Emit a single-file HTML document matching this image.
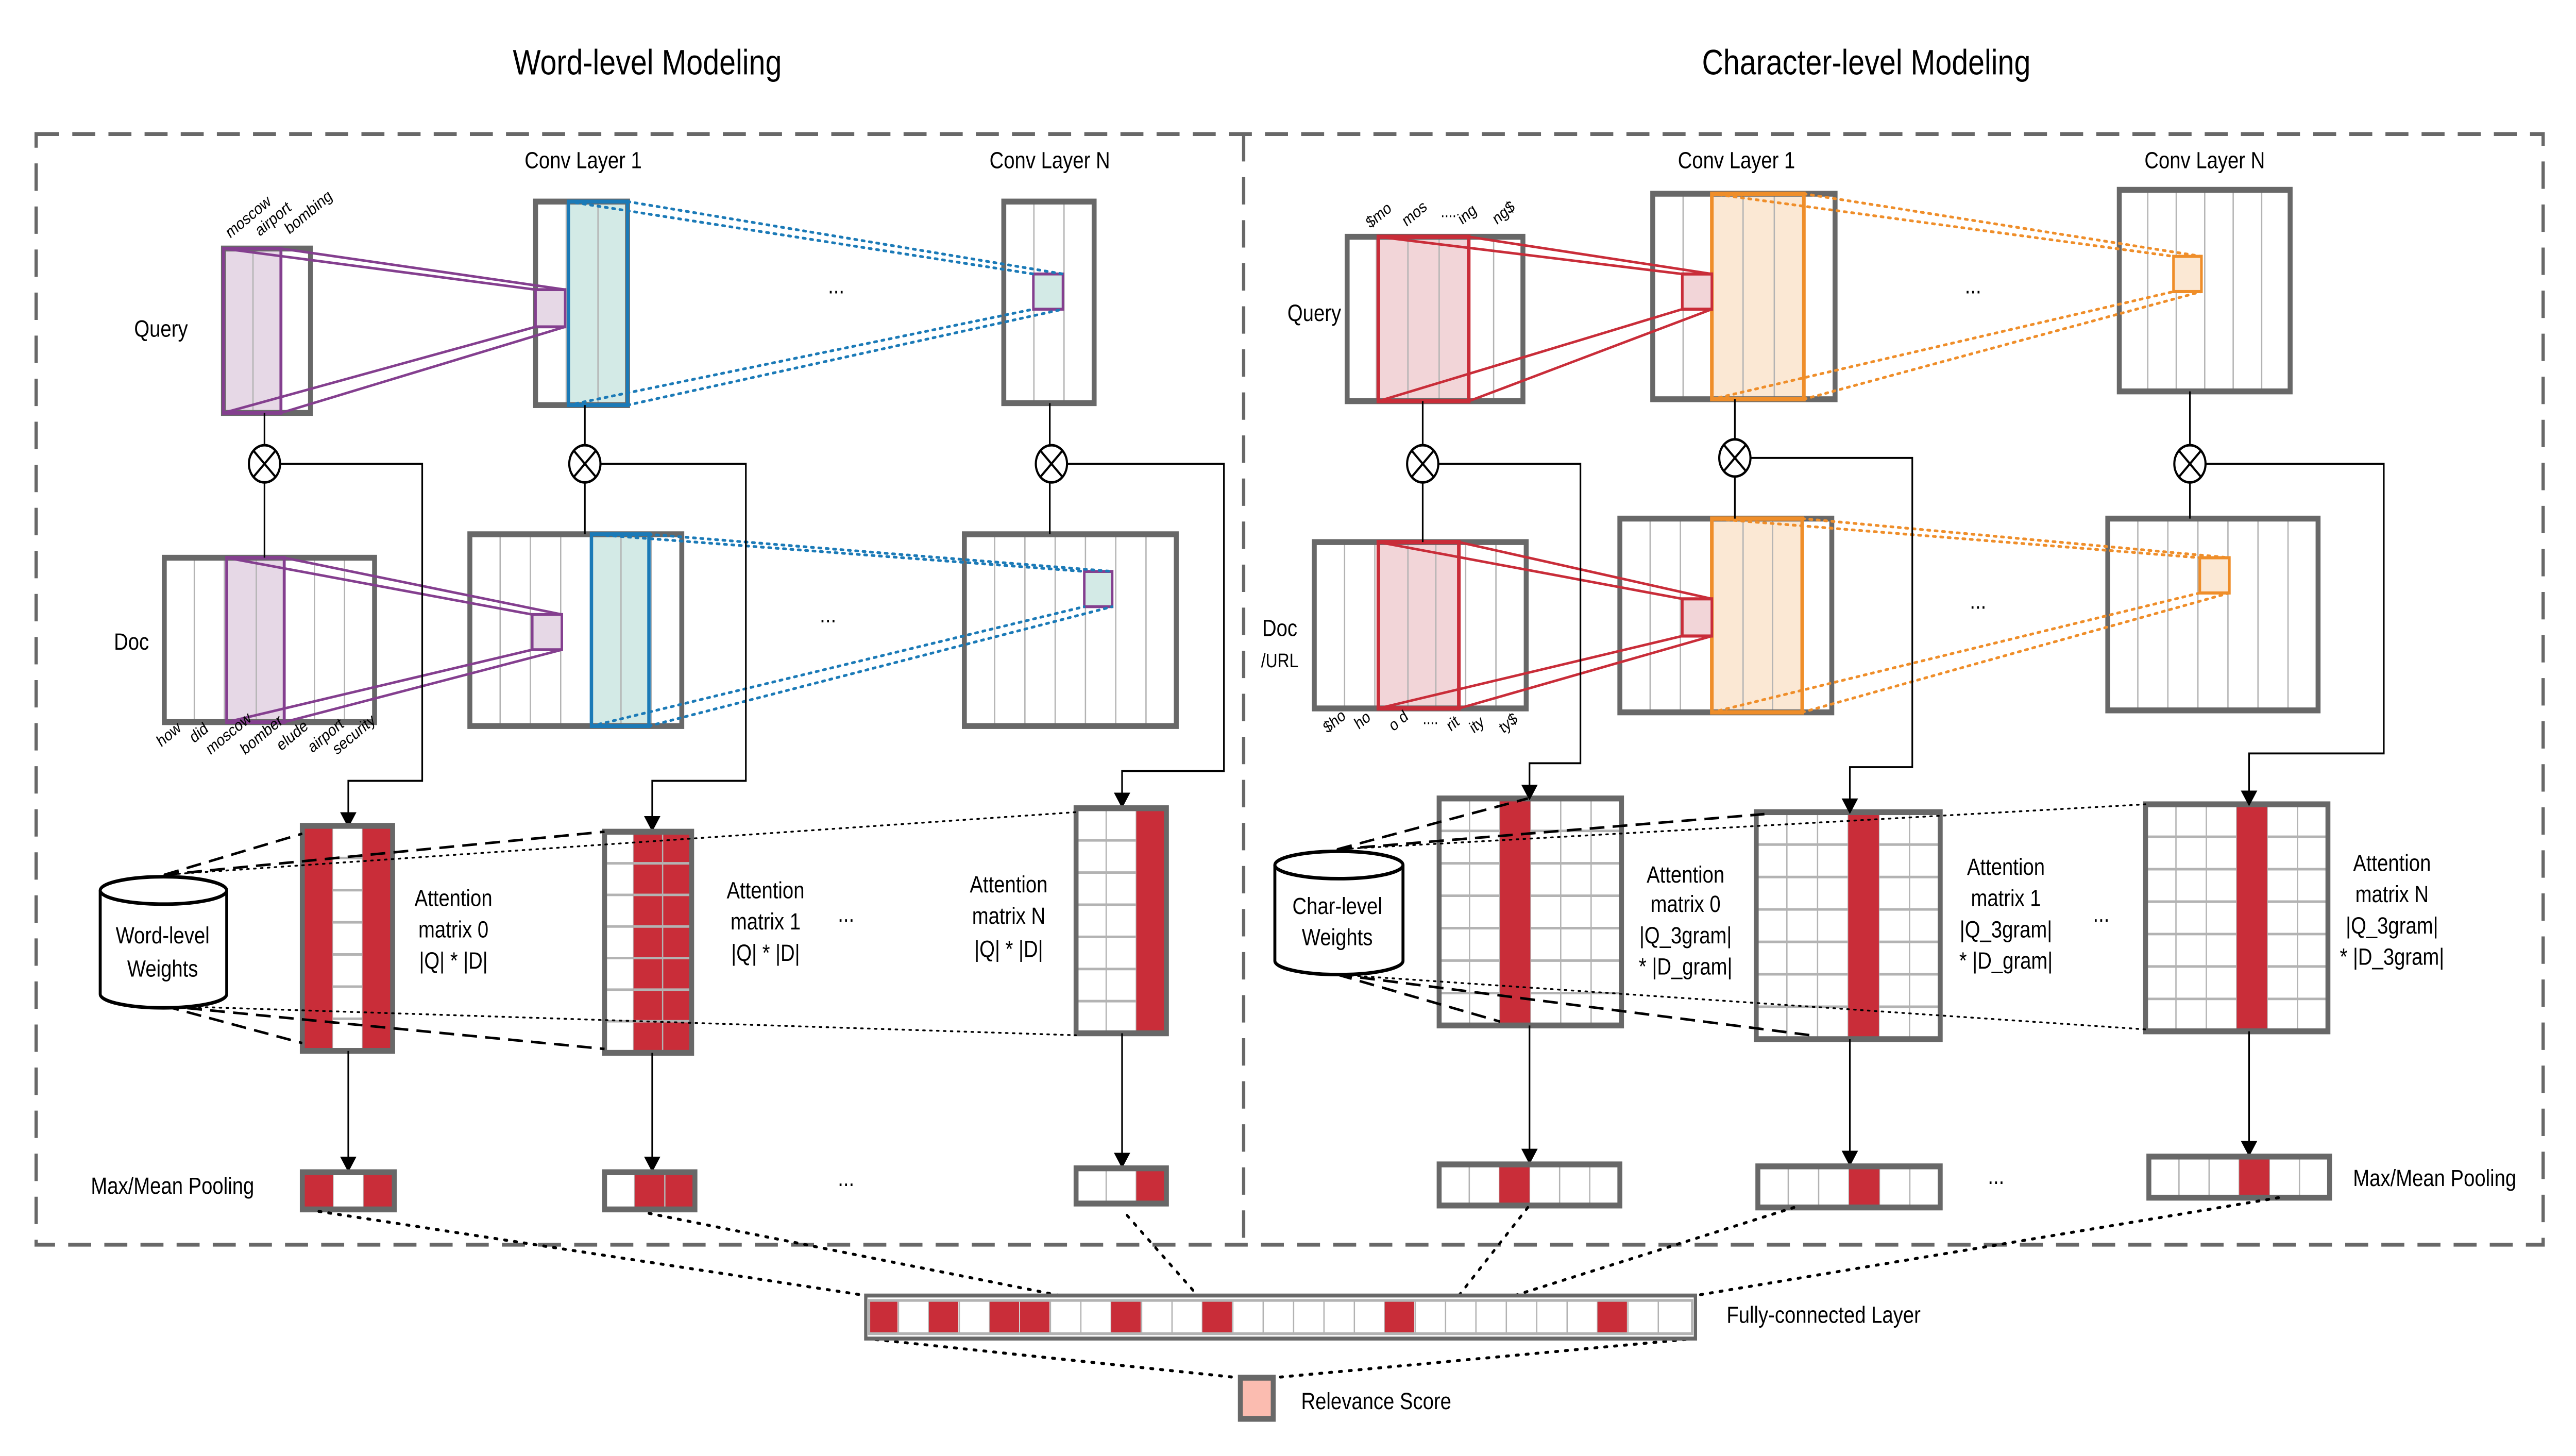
<!DOCTYPE html>
<html><head><meta charset="utf-8">
<style>
html,body{margin:0;padding:0;background:#fff;width:100%;height:100%;overflow:hidden}
svg{display:block;width:100vw;height:100vh}
text{font-family:"Liberation Sans",Arial,sans-serif;fill:#000}
</style></head><body>
<svg id="s" xmlns="http://www.w3.org/2000/svg" viewBox="0 0 1568 744" preserveAspectRatio="none">
<defs>
<marker id="ar" markerWidth="8" markerHeight="10" refX="7" refY="5" orient="auto" markerUnits="userSpaceOnUse"><path d="M0,0 L8,5 L0,10 z" fill="#000"/></marker>
</defs>
<g id="g"></g>
<text x="394" y="38" font-size="18" text-anchor="middle">Word-level Modeling</text>
<text x="1136" y="38" font-size="18" text-anchor="middle">Character-level Modeling</text>
<text x="355" y="86" font-size="12" text-anchor="middle">Conv Layer 1</text>
<text x="639" y="86" font-size="12" text-anchor="middle">Conv Layer N</text>
<text x="1057" y="86" font-size="12" text-anchor="middle">Conv Layer 1</text>
<text x="1342" y="86" font-size="12" text-anchor="middle">Conv Layer N</text>
<text x="98" y="172" font-size="12" text-anchor="middle">Query</text>
<text x="80" y="332" font-size="12" text-anchor="middle">Doc</text>
<text x="800" y="164" font-size="12" text-anchor="middle">Query</text>
<text x="779" y="325" font-size="12" text-anchor="middle">Doc</text>
<text x="779" y="341" font-size="10" text-anchor="middle">/URL</text>
<g font-size="12" text-anchor="middle">
<text x="509" y="150">...</text><text x="504" y="318">...</text>
<text x="1201" y="150">...</text><text x="1204" y="311">...</text>
<text x="515" y="471">...</text><text x="515" y="606">...</text>
<text x="1279" y="471">...</text><text x="1215" y="605">...</text>
</g>
<g font-size="8.5">
<text transform="translate(140,122) rotate(-35)">moscow</text>
<text transform="translate(158,121) rotate(-35)">airport</text>
<text transform="translate(176,120) rotate(-35)">bombing</text>
<text transform="translate(98,382) rotate(-35)">how</text>
<text transform="translate(118,380) rotate(-35)">did</text>
<text transform="translate(128,386) rotate(-35)">moscow</text>
<text transform="translate(149,386) rotate(-35)">bomber</text>
<text transform="translate(171,384) rotate(-35)">elude</text>
<text transform="translate(190,385) rotate(-35)">airport</text>
<text transform="translate(205,386) rotate(-35)">security</text>
<text transform="translate(834,117) rotate(-35)">$mo</text>
<text transform="translate(856,116) rotate(-35)">mos</text>
<text transform="translate(877,111)">....</text>
<text transform="translate(890,115) rotate(-35)">ing</text>
<text transform="translate(911,115) rotate(-35)">ng$</text>
<text transform="translate(808,375) rotate(-35)">$ho</text>
<text transform="translate(827,373) rotate(-35)">ho</text>
<text transform="translate(848,374) rotate(-35)">o d</text>
<text transform="translate(866,370)">....</text>
<text transform="translate(883,374) rotate(-35)">rit</text>
<text transform="translate(897,375) rotate(-35)">ity</text>
<text transform="translate(915,375) rotate(-35)">ty$</text>
</g>
<g font-size="12" text-anchor="middle">
<text x="276" y="463">Attention</text><text x="276" y="479">matrix 0</text><text x="276" y="495">|Q| * |D|</text>
<text x="466" y="459">Attention</text><text x="466" y="475">matrix 1</text><text x="466" y="491">|Q| * |D|</text>
<text x="614" y="456">Attention</text><text x="614" y="472">matrix N</text><text x="614" y="489">|Q| * |D|</text>
<text x="1026" y="451">Attention</text><text x="1026" y="466">matrix 0</text><text x="1026" y="482">|Q_3gram|</text><text x="1026" y="498">* |D_gram|</text>
<text x="1221" y="447">Attention</text><text x="1221" y="463">matrix 1</text><text x="1221" y="479">|Q_3gram|</text><text x="1221" y="495">* |D_gram|</text>
<text x="1456" y="445">Attention</text><text x="1456" y="461">matrix N</text><text x="1456" y="477">|Q_3gram|</text><text x="1456" y="493">* |D_3gram|</text>
<text x="99" y="482">Word-level</text><text x="99" y="499">Weights</text>
<text x="814" y="467">Char-level</text><text x="814" y="483">Weights</text>
</g>
<text x="105" y="610" font-size="12" text-anchor="middle">Max/Mean Pooling</text>
<text x="1482" y="606" font-size="12" text-anchor="middle">Max/Mean Pooling</text>
<text x="1051" y="676" font-size="12">Fully-connected Layer</text>
<text x="792" y="720" font-size="12">Relevance Score</text>
</svg>
<script>
var G=document.getElementById('g'),NS='http://www.w3.org/2000/svg';
function el(t,a){var e=document.createElementNS(NS,t);for(var k in a)e.setAttribute(k,a[k]);G.appendChild(e);return e;}
function R(x,y,w,h,f,s,sw,extra){var a={x:x,y:y,width:w,height:h,fill:f||'none',stroke:s||'none','stroke-width':sw||0};for(var k in extra)a[k]=extra[k];return el('rect',a);}
function L(x1,y1,x2,y2,s,sw,extra){var a={x1:x1,y1:y1,x2:x2,y2:y2,stroke:s||'#000','stroke-width':sw||1};for(var k in extra)a[k]=extra[k];return el('line',a);}
function P(d,s,sw,extra){var a={d:d,fill:'none',stroke:s||'#000','stroke-width':sw||1};for(var k in extra)a[k]=extra[k];return el('path',a);}
var GR='#686868',LG='#b3b3b3',RED='#c92d39';
function mat(x,y,w,h,cols,rows){R(x,y,w,h,'#fff');
  for(var i=1;i<cols;i++){var xx=x+w*i/cols;L(xx,y,xx,y+h,LG,0.8);}
  if(rows)for(var j=1;j<rows;j++){var yy=y+h*j/rows;L(x,yy,x+w,yy,LG,1.2);}
}
function box(x,y,w,h){R(x,y,w,h,'none',GR,3);}
var dash={'stroke-dasharray':'14 8'};
P('M22,68.5 H1548 V636 H22 Z',GR,2,dash);
L(757,68.5,757,636,GR,2,dash);
var PUR='#843f8f',PF='#e6d8e6',TE='#1b7ab7',TF='#d3eae6';
mat(136,127,53,84,3);R(136,127,35,84,PF,PUR,1.6);L(154,127,154,211,LG,0.8);box(136,127,53,84);R(136,127,35,84,'none',PUR,1.8);
mat(326,103,56,104,3);R(346,103,36,104,TF,TE,2);L(364,103,364,207,LG,0.8);box(326,103,56,104);R(346,103,36,104,'none',TE,2);
R(326,148,18,19,PF,PUR,1.5);
mat(611,103,55,103,3);box(611,103,55,103);R(629,140,18,18,TF,PUR,1.5);
mat(100,285,128,84,7);R(138,285,35,84,PF,PUR,1.6);L(156,285,156,369,LG,0.8);box(100,285,128,84);R(138,285,35,84,'none',PUR,1.8);
mat(286,273,129,98,7);R(360,273,35,98,TF,TE,2);L(378,273,378,371,LG,0.8);box(286,273,129,98);R(360,273,35,98,'none',TE,2);
R(324,314,18,18,PF,PUR,1.5);
mat(587,273,129,98,7);box(587,273,129,98);R(660,292,17,18,TF,PUR,1.5);
[[136,127,326,148],[171,127,344,148],[136,211,326,167],[171,211,344,167]].forEach(function(a){L(a[0],a[1],a[2],a[3],PUR,1.3);});
[[138,285,324,314],[173,285,342,314],[138,369,324,332],[173,369,342,332]].forEach(function(a){L(a[0],a[1],a[2],a[3],PUR,1.3);});
var dot={'stroke-dasharray':'1.5 3','stroke-linecap':'round'};
[[346,103,629,140],[382,103,647,140],[346,207,629,158],[382,207,647,158]].forEach(function(a){L(a[0],a[1],a[2],a[3],TE,1.4,dot);});
[[360,273,660,292],[395,273,677,292],[360,371,660,310],[395,371,677,310]].forEach(function(a){L(a[0],a[1],a[2],a[3],TE,1.4,dot);});
function otimes(cx,cy){el('ellipse',{cx:cx,cy:cy,rx:9.5,ry:9.5,fill:'#fff',stroke:'#000','stroke-width':1.3});
 var d=6.7;L(cx-d,cy-d,cx+d,cy+d,'#000',1.2);L(cx-d,cy+d,cx+d,cy-d,'#000',1.2);}
L(161,211,161,285,'#000',1);L(356,207,356,273,'#000',1);L(639,206,639,273,'#000',1);
otimes(161,237);otimes(356,237);otimes(640,237);
P('M170.5,237 H257 V399 H212 V422','#000',1,{'marker-end':'url(#ar)'});
P('M365.5,237 H454 V399 H397 V424','#000',1,{'marker-end':'url(#ar)'});
P('M649.5,237 H745 V394 H683 V412','#000',1,{'marker-end':'url(#ar)'});
function attr(x,y,w,h,cols,rows,reds){
 R(x,y,w,h,'#fff');var cw=w/cols;
 for(var i=1;i<cols;i++)L(x+cw*i,y,x+cw*i,y+h,LG,0.8);
 for(var j=1;j<rows;j++){var yy=y+h*j/rows;L(x,yy,x+w,yy,LG,1.3);}
 reds.forEach(function(c){R(x+c*cw,y,cw,h,RED);});
 for(var i=1;i<cols;i++){if(reds.indexOf(i)>=0&&reds.indexOf(i-1)>=0)L(x+cw*i,y,x+cw*i,y+h,LG,0.8);}
 if(reds.length>1&&x>300&&x<760){for(var j=1;j<rows;j++){var yy=y+h*j/rows;reds.forEach(function(c){L(x+c*cw,yy,x+(c+1)*cw,yy,LG,1.3);});}}
 box(x,y,w,h);}
attr(184,422,55,115,3,7,[0,2]);
attr(368,425,53,113,3,7,[1,2]);
attr(655,413,55,115,3,7,[2]);
attr(876,408,111,116,6,7,[2]);
attr(1069,415,112,116,6,7,[3]);
attr(1306,411,111,116,6,7,[3]);
function cyl(x,y,w,h){var rx=w/2,ry=7;
 P('M'+x+','+(y+ry)+' V'+(y+h-ry)+' A'+rx+','+ry+' 0 0 0 '+(x+w)+','+(y+h-ry)+' V'+(y+ry),'#000',1.8,{fill:'#fff'});
 el('ellipse',{cx:x+rx,cy:y+ry,rx:rx,ry:ry,fill:'#fff',stroke:'#000','stroke-width':1.8});}
var dsh={'stroke-dasharray':'9 5'},dt={'stroke-dasharray':'1.2 3','stroke-linecap':'round'};
L(100,447,184,426,'#000',1.3,dsh);L(100,447,368,425,'#000',1.3,dsh);L(100,447,655,415,'#000',0.9,dt);
L(100,514,184,533,'#000',1.3,dsh);L(100,514,368,536,'#000',1.3,dsh);L(100,514,655,529,'#000',0.9,dt);
L(814,434,930,408,'#000',1.3,dsh);L(814,434,1074,416,'#000',1.3,dsh);L(814,434,1306,411,'#000',0.9,dt);
L(814,498,913,522,'#000',1.3,dsh);L(814,498,1102,529,'#000',1.3,dsh);L(814,498,1306,526,'#000',0.9,dt);
cyl(61,448,77,67);cyl(776,435,78,63);
function pool(x,y,w,h,cols,reds){R(x,y,w,h,'#fff');var cw=w/cols;for(var i=1;i<cols;i++)L(x+cw*i,y,x+cw*i,y+h,LG,0.8);
 reds.forEach(function(c){R(x+c*cw,y,cw,h,RED);});for(var i=1;i<cols;i++){if(reds.indexOf(i)>=0&&reds.indexOf(i-1)>=0)L(x+cw*i,y,x+cw*i,y+h,LG,0.8);}box(x,y,w,h);}
L(212,537,212,598,'#000',1,{'marker-end':'url(#ar)'});
L(397,538,397,598,'#000',1,{'marker-end':'url(#ar)'});
L(683,528,683,596,'#000',1,{'marker-end':'url(#ar)'});
pool(184,599,56,19,3,[0,2]);pool(368,599,55,19,3,[1,2]);pool(655,597,55,18,3,[2]);
var CR='#c92d39',CF='#f2d5d8',OR='#ef8e2a',OF='#fbe8d4';
mat(820,121,107,84,6);R(839,121,55,84,CF,CR,2);L(857,121,857,205,LG,0.8);L(876,121,876,205,LG,0.8);box(820,121,107,84);R(839,121,55,84,'none',CR,2.2);
mat(1006,99,111,105,6);R(1042,99,56,105,OF,OR,2);L(1061,99,1061,204,LG,0.8);L(1080,99,1080,204,LG,0.8);box(1006,99,111,105);R(1042,99,56,105,'none',OR,2.2);
R(1024,140,18,18,CF,CR,1.6);
mat(1290,97,104,103,6);box(1290,97,104,103);R(1323,131,17,18,OF,OR,1.6);
mat(800,277,129,85,7);R(839,277,49,85,CF,CR,2);L(857,277,857,362,LG,0.8);L(874,277,874,362,LG,0.8);box(800,277,129,85);R(839,277,49,85,'none',CR,2.2);
mat(986,265,129,99,7);R(1042,265,55,99,OF,OR,2);L(1061,265,1061,364,LG,0.8);L(1079,265,1079,364,LG,0.8);box(986,265,129,99);R(1042,265,55,99,'none',OR,2.2);
R(1024,306,18,19,CF,CR,1.6);
mat(1283,265,128,98,7);box(1283,265,128,98);R(1339,285,18,18,OF,OR,1.6);
[[839,121,1024,140],[894,121,1042,140],[839,205,1024,158],[894,205,1042,158]].forEach(function(a){L(a[0],a[1],a[2],a[3],CR,1.3);});
[[839,277,1024,306],[888,277,1042,306],[839,362,1024,325],[888,362,1042,325]].forEach(function(a){L(a[0],a[1],a[2],a[3],CR,1.3);});
[[1042,99,1323,131],[1098,99,1340,131],[1042,204,1323,149],[1098,204,1340,149]].forEach(function(a){L(a[0],a[1],a[2],a[3],OR,1.4,dot);});
[[1042,265,1339,285],[1097,265,1357,285],[1042,364,1339,303],[1097,364,1357,303]].forEach(function(a){L(a[0],a[1],a[2],a[3],OR,1.4,dot);});
L(866,205,866,277,'#000',1);L(1056,204,1056,265,'#000',1);L(1333,200,1333,265,'#000',1);
otimes(866,237);otimes(1056,234);otimes(1333,237);
P('M875.5,237 H962 V390 H931 V408','#000',1,{'marker-end':'url(#ar)'});
P('M1065.5,234 H1164 V392 H1126 V415','#000',1,{'marker-end':'url(#ar)'});
P('M1342.5,237 H1451 V385 H1369 V411','#000',1,{'marker-end':'url(#ar)'});
L(931,524,931,594,'#000',1,{'marker-end':'url(#ar)'});
L(1126,531,1126,595,'#000',1,{'marker-end':'url(#ar)'});
L(1369,527,1369,590,'#000',1,{'marker-end':'url(#ar)'});
pool(876,595,110,21,6,[2]);pool(1070,596,111,21,6,[3]);pool(1308,591,110,21,6,[3]);
var dt2={'stroke-dasharray':'1.5 4.5','stroke-linecap':'round'};
[[194,619,527,662],[395,620,645,662],[686,621,729,662],[930,617,888,662],[1092,617,922,662],[1387,612,1032,662],[527,684,754,704],[1032,684,775,704]].forEach(function(a){L(a[0],a[1],a[2],a[3],'#000',1.5,dt2);});
R(527,662,505,22,'#fff');
var fx=528.4,cw=18.5;
for(var k=1;k<27;k++)L(fx+k*cw,664,fx+k*cw,682,LG,0.8);
[0,2,4,5,8,11,17,24].forEach(function(k){R(fx+k*cw,665,cw-0.6,17,RED);});
R(527,662,505,22,'none',GR,2);R(529,664.5,501,17,'none',LG,1.4);
R(755,704,20,21,'#fbbcb0',GR,3);
</script>
</body></html>
